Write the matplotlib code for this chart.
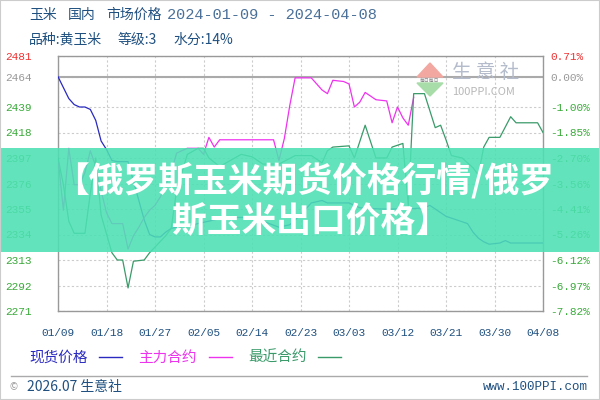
import matplotlib
matplotlib.use("Agg")
import matplotlib.pyplot as plt
import matplotlib.dates as mdates
from matplotlib.patches import Rectangle, Polygon
import pandas as pd

plt.rcParams['font.family'] = ['Noto Sans CJK SC', 'DejaVu Sans']

start = pd.Timestamp("2024-01-09")

# 现货价格
spot_days = [0, 1, 2, 3, 4, 5, 6, 7, 8, 9, 10, 11, 12, 13, 14, 15, 16, 17, 18, 19, 20, 21,
             22, 25, 28, 31, 35, 38, 41, 43, 45, 47, 49, 50, 54, 56, 60, 65, 68, 69, 70, 72,
             74, 76, 77, 78, 79, 80, 82, 83, 84, 87, 90]
spot_vals = [2464, 2455, 2446, 2441, 2439, 2439, 2437, 2428, 2411, 2404, 2395, 2394, 2394, 2394,
             2378, 2362, 2346, 2334, 2332, 2332, 2336, 2339,
             2340, 2342, 2345, 2348, 2348, 2345, 2340, 2342, 2350, 2360, 2362, 2360, 2360, 2356,
             2355, 2355, 2356, 2358, 2355, 2349,
             2346, 2343, 2336, 2331, 2328, 2326, 2327, 2329, 2327, 2327, 2327]

# 主力合约
main_days = [0, 1, 2, 3, 4, 5, 6, 7, 8, 9, 10, 11, 12, 13, 14, 15, 16, 17, 18, 19,
             21, 22, 24, 26, 27, 28, 29, 30, 40, 41, 42, 43, 44, 47, 49, 50, 51, 53, 54, 55,
             56, 57, 59, 61, 62, 63, 64, 65, 66]
main_vals = [2397, 2354, 2405, 2375, 2375, 2385, 2403, 2390, 2370, 2352,
             2343, 2343, 2343, 2322, 2333, 2340, 2348, 2354, 2358, 2365,
             2385, 2401, 2405, 2405, 2400, 2414, 2406, 2412, 2412, 2395,
             2413, 2440, 2463, 2463, 2453, 2450, 2461, 2460, 2458, 2439,
             2443, 2451, 2445, 2444, 2426, 2439, 2430, 2424, 2447]

# 最近合约
near_days = [0, 1, 2, 3, 5, 6, 7, 8, 10, 11, 12, 13, 14, 16, 17, 20, 21, 22, 24, 26,
             27, 28, 30, 32, 34, 36, 38, 41, 44, 47, 49, 50, 51, 54, 55, 57, 59, 61, 62, 64,
             65, 66, 68, 70, 71, 72, 73, 75, 77, 78, 79, 80, 82, 84, 85, 89, 90]
near_vals = [2397, 2375, 2345, 2335, 2335, 2368, 2397, 2350, 2319, 2313,
             2313, 2290, 2312, 2313, 2319, 2333, 2339, 2370, 2400, 2405,
             2405, 2397, 2390, 2395, 2400, 2398, 2392, 2392, 2399, 2399,
             2393, 2403, 2406, 2407, 2397, 2424, 2397, 2397, 2406, 2409,
             2358, 2450, 2450, 2422, 2424, 2412, 2399, 2397, 2389, 2383,
             2406, 2414, 2414, 2431, 2426, 2426, 2418]

y_ticks = [2271, 2292, 2313, 2334, 2355, 2376, 2397, 2418, 2439, 2464, 2481]
pct_labels = ["-7.82%", "-6.97%", "-6.12%", "-5.26%", "-4.41%", "-3.56%", "-2.70%",
              "-1.85%", "-1.00%", "0.00%", "0.71%"]
x_tick_days = [0, 9, 18, 27, 36, 45, 54, 63, 72, 81, 90]

blue, magenta, green = "#2a2ac0", "#ee33ee", "#3a9a6a"
lab_green, lab_red, lab_gray = "#3aaa3a", "#ee3333", "#999999"
txt_blue = "#1f5080"


def to_dates(days):
    return [start + pd.Timedelta(days=d) for d in days]


W, H = 600, 400
fig = plt.figure(figsize=(6, 4), dpi=100)
fig.patch.set_facecolor("white")
ax = fig.add_axes([58 / W, 1 - 311 / H, (543 - 58) / W, (311 - 56) / H])

ax.plot(to_dates(spot_days), spot_vals, color=blue, lw=0.9, zorder=3)
ax.plot(to_dates(main_days), main_vals, color=magenta, lw=0.9, zorder=3)
ax.plot(to_dates(near_days), near_vals, color=green, lw=0.9, zorder=3)

ax.set_ylim(2271, 2481)
ax.set_xlim(start, start + pd.Timedelta(days=90))
ax.set_yticks(y_ticks)
ax.set_xticks(to_dates(x_tick_days))
ax.xaxis.set_major_formatter(mdates.DateFormatter("%m/%d"))
ax.grid(True, color="#cccccc", lw=0.8, linestyle=(0, (2, 2)))
ax.axhline(2464, color="#aaaaaa", lw=1.5, zorder=2)
for s in ax.spines.values():
    s.set_color("#999999")
    s.set_linewidth(1.0)

mono = "Liberation Mono"
ax.tick_params(axis="both", length=0)
ax.tick_params(axis="y", pad=19, labelsize=8)
ax.tick_params(axis="x", pad=12, labelsize=8, labelcolor=txt_blue)
for lab in ax.get_xticklabels():
    lab.set_fontfamily(mono)
ylabs = ax.get_yticklabels()
for i, lab in enumerate(ylabs):
    lab.set_fontfamily(mono)
    lab.set_color(lab_red if i == len(ylabs) - 1 else lab_gray if i == len(ylabs) - 2 else lab_green)

ax2 = ax.twinx()
ax2.set_ylim(ax.get_ylim())
ax2.set_yticks(y_ticks)
ax2.set_yticklabels(pct_labels)
ax2.tick_params(axis="y", length=0, pad=5, labelsize=8)
for s in ax2.spines.values():
    s.set_visible(False)
rl = ax2.get_yticklabels()
for i, lab in enumerate(rl):
    lab.set_fontfamily(mono)
    lab.set_color(lab_red if i == len(rl) - 1 else lab_gray if i == len(rl) - 2 else lab_green)


def fx(px):
    return px / W


def fy(py):
    return 1 - py / H


# header
fig.text(fx(29), fy(15), "玉米", fontsize=10, color=txt_blue, va="center")
fig.text(fx(68), fy(15), "国内", fontsize=10, color=txt_blue, va="center")
fig.text(fx(106), fy(15), "市场价格", fontsize=10, color=txt_blue, va="center")
fig.text(fx(167), fy(15), "2024-01-09 - 2024-04-08", fontsize=11, color="#4a7099",
         va="center", family=mono)
fig.text(fx(29), fy(40), "品种:黄玉米", fontsize=10, color=txt_blue, va="center")
fig.text(fx(118), fy(40), "等级:3", fontsize=10, color=txt_blue, va="center")
fig.text(fx(173), fy(40), "水分:14%", fontsize=10, color=txt_blue, va="center")

# watermark
fig.add_artist(Polygon([[fx(417), fy(77)], [fx(443), fy(77)], [fx(430), fy(63)]],
                       closed=True, color="#f2a8a0", transform=fig.transFigure))
fig.add_artist(Polygon([[fx(417), fy(83)], [fx(443), fy(83)], [fx(430), fy(96)]],
                       closed=True, color="#a8dca8", transform=fig.transFigure))
fig.text(fx(430), fy(80), "每日每日", fontsize=3.5, color="#888888", ha="center", va="center")
fig.text(fx(452), fy(73), "生 意 社", fontsize=14, color="#b4bccc", va="center")
fig.text(fx(452), fy(92), "100PPI.COM", fontsize=8, color="#b8b8b8", va="center")

# banner
fig.add_artist(Rectangle((0, fy(252)), 1, (252 - 148) / H, transform=fig.transFigure,
                         facecolor=(0.30, 0.88, 0.70), alpha=0.88, edgecolor="none", zorder=10))
fig.text(fx(304), fy(180), "【俄罗斯玉米期货价格行情/俄罗", fontsize=25, color="white",
         weight="heavy", ha="center", va="center", zorder=11)
fig.text(fx(311), fy(222), "斯玉米出口价格】", fontsize=25, color="white",
         weight="heavy", ha="center", va="center", zorder=11)

# legend
fig.text(fx(29), fy(358), "现货价格", fontsize=10.5, color=blue, va="center")
fig.text(fx(138), fy(358), "主力合约", fontsize=10.5, color=magenta, va="center")
fig.text(fx(248), fy(358), "最近合约", fontsize=10.5, color=green, va="center")
for x0, c in [(99, blue), (209, magenta), (318, green)]:
    fig.add_artist(plt.Line2D([fx(x0), fx(x0 + 23)], [fy(357), fy(357)], color=c, lw=1.0,
                              transform=fig.transFigure))

# footer
fig.add_artist(plt.Line2D([fx(11), fx(587)], [fy(376), fy(376)], color="#aaaaaa", lw=1,
                          transform=fig.transFigure))
fig.text(fx(10), fy(387), "©", fontsize=7, color="#999999", va="center")
fig.text(fx(27), fy(387), "2026.07 生意社", fontsize=10, color=txt_blue, va="center")
fig.text(fx(588), fy(387), "www.100PPI.com", fontsize=9, color=txt_blue, va="center",
         ha="right", family=mono)

# outer frame
fig.add_artist(Rectangle((0, 0), 1, 1, transform=fig.transFigure, fill=False,
                         edgecolor="#cccccc", lw=1.5, zorder=12))

fig.savefig("out.png", dpi=100)
